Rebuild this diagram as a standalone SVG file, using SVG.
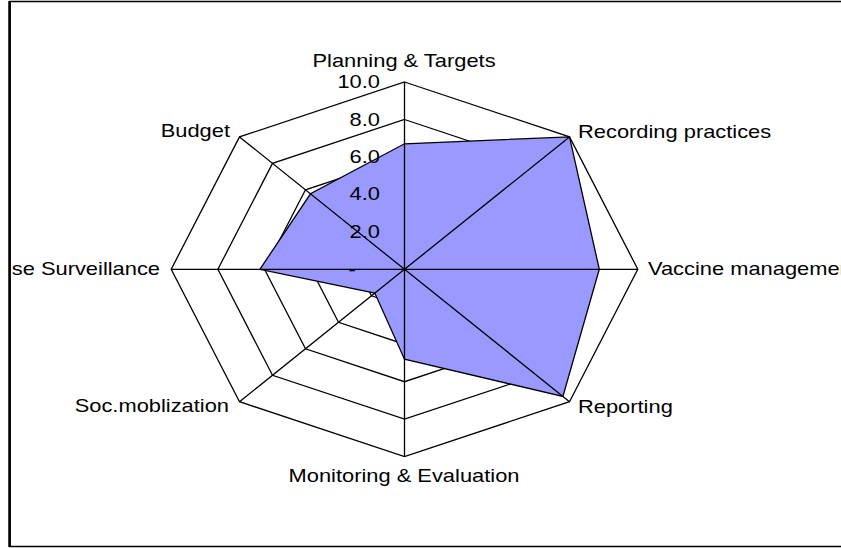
<svg xmlns="http://www.w3.org/2000/svg" width="841" height="548" viewBox="0 0 841 548">
<style>
.t{font-family:"Liberation Sans",Arial,sans-serif;font-size:17.5px;fill:#000}
.g{fill:none;stroke:#000;stroke-width:1.3;stroke-linejoin:miter}
.s{fill:none;stroke:#000;stroke-width:1.3}
.d{fill:#9999FF;stroke:#000;stroke-width:1.3;stroke-linejoin:miter}
</style>
<rect x="0" y="0" width="841" height="548" fill="#fff"/>
<path d="M10,547 V1.5 H841" fill="none" stroke="#000" stroke-width="1.5"/>
<path d="M9.5,1 V547" fill="none" stroke="#000" stroke-width="2.5"/>
<path d="M9,546.5 H841" fill="none" stroke="#000" stroke-width="1.5"/>
<g id="grid">
<polygon class="g" points="404.5,82 569.5,136.9 637.8,269.3 569.5,401.7 404.5,456.6 239.5,401.7 171.2,269.3 239.5,136.9"/>
<polygon class="g" points="404.5,119.5 536.5,163.4 591.1,269.3 536.5,375.3 404.5,419.1 272.5,375.3 217.9,269.3 272.5,163.4"/>
<polygon class="g" points="404.5,156.9 503.5,189.8 544.5,269.3 503.5,348.8 404.5,381.7 305.5,348.8 264.5,269.3 305.5,189.8"/>
<polygon class="g" points="404.5,194.4 470.5,216.3 497.8,269.3 470.5,322.3 404.5,344.2 338.5,322.3 311.2,269.3 338.5,216.3"/>
<polygon class="g" points="404.5,231.8 437.5,242.8 451.2,269.3 437.5,295.8 404.5,306.8 371.5,295.8 357.8,269.3 371.5,242.8"/>
</g>
<g id="series">
<polygon class="d" points="404.5,143.8 569.5,136.9 599.3,269.3 562.9,396.4 404.5,359.2 374.8,293.1 259.9,269.3 310.5,193.8"/>
</g>
<g id="spokes">
<path class="s" d="M404.5,269.3 L404.5,82 M404.5,269.3 L569.5,136.9 M404.5,269.3 L637.8,269.3 M404.5,269.3 L569.5,401.7 M404.5,269.3 L404.5,456.6 M404.5,269.3 L239.5,401.7 M404.5,269.3 L171.2,269.3 M404.5,269.3 L239.5,136.9"/>
</g>
<g id="scale">
<text class="t" text-anchor="end" transform="translate(380,87.5) scale(1.25,1)">10.0</text>
<text class="t" text-anchor="end" transform="translate(380,125.5) scale(1.25,1)">8.0</text>
<text class="t" text-anchor="end" transform="translate(380,163) scale(1.25,1)">6.0</text>
<text class="t" text-anchor="end" transform="translate(380,200.4) scale(1.25,1)">4.0</text>
<text class="t" text-anchor="end" transform="translate(380,237.8) scale(1.25,1)">2.0</text>
<text class="t" transform="translate(348.5,275.5) scale(1.25,1)">-</text>
</g>
<g id="label-planning"><text class="t" text-anchor="middle" transform="translate(404,67) scale(1.25,1)">Planning &amp; Targets</text></g>
<g id="label-recording"><text class="t" transform="translate(578,138) scale(1.25,1)">Recording practices</text></g>
<g id="label-vaccine"><text class="t" transform="translate(648,275) scale(1.25,1)">Vaccine management</text></g>
<g id="label-reporting"><text class="t" transform="translate(578,413) scale(1.25,1)">Reporting</text></g>
<g id="label-monitoring"><text class="t" text-anchor="middle" transform="translate(404,482) scale(1.25,1)">Monitoring &amp; Evaluation</text></g>
<g id="label-socmob"><text class="t" text-anchor="end" transform="translate(229,412) scale(1.25,1)">Soc.moblization</text></g>
<g id="label-surveillance"><text class="t" text-anchor="end" transform="translate(160,275) scale(1.25,1)">se Surveillance</text></g>
<g id="label-budget"><text class="t" text-anchor="end" transform="translate(230,137.3) scale(1.25,1)">Budget</text></g>
</svg>
